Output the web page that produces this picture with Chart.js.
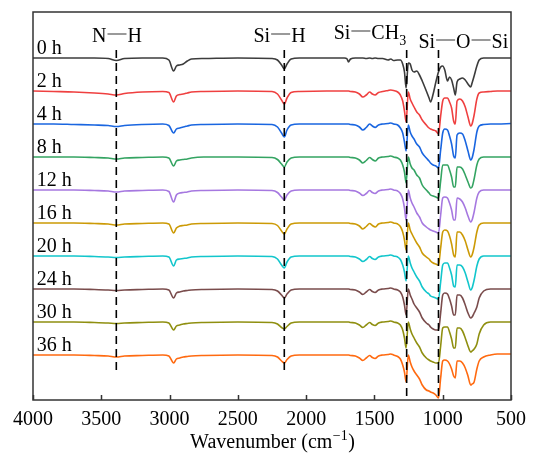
<!DOCTYPE html>
<html>
<head>
<meta charset="utf-8">
<script src="https://cdn.jsdelivr.net/npm/chart.js@4.4.0/dist/chart.umd.min.js"></script>
<style>
  html, body { margin: 0; padding: 0; background: #fff; }
  #wrap { width: 534px; height: 456px; }
</style>
</head>
<body>
<div id="wrap"><canvas id="ftirChart" width="534" height="456"></canvas></div>
<script>
// 파수 (cm-1), 내림차순
const wavenumbers = [
  4000, 3850, 3700, 3550, 3450, 3390, 3330, 3200, 3050,
  3005, 2970, 2950, 2925, 2900, 2870, 2840, 2750, 2500,
  2250, 2210, 2180, 2160, 2140, 2110, 2050, 1850,
  1720, 1700, 1690, 1675, 1640, 1610, 1585, 1560, 1535, 1515, 1495, 1470, 1440, 1400, 1380, 1360, 1330,
  1310, 1293, 1280, 1268, 1252, 1238, 1225, 1210, 1190, 1170, 1150, 1120, 1100, 1089, 1070, 1050, 1031,
  1015, 1000, 985, 965, 950, 935, 920, 908, 895, 875, 855, 835, 815, 795, 785, 770, 750, 733, 700, 650, 600, 500
];

const sampleLabels = ['0 h', '2 h', '4 h', '8 h', '12 h', '16 h', '20 h', '24 h', '30 h', '36 h'];
const traceColors = ['#3c3c3c', '#ef4040', '#1a66e0', '#34a462', '#a678e0', '#cc9a06', '#12c6cc', '#7a4c4c', '#8f8f10', '#ff6a10'];
const baselineOffsets = [342, 309, 276, 243, 210, 177, 144, 111, 78, 45];

// 흡수 깊이 (기준선 아래, 임의 단위)
const depth0h = [
  0, 0, 0, 0, 0.5, 2.5, 0.5, 0, 0,
  2, 13, 8, 7, 6, 3, 1, 0.5, 0,
  0.5, 2, 7, 11, 6, 1, 0, 0,
  0, 1, 4, 1, 0, 0, 0, 0.5, 0, 0.5, 0, 0.5, 0.5, 2, 1, 2.5, 2,
  2, 6, 14, 30, 5, 6, 12, 14, 13, 17, 23, 33, 40, 44, 36, 24, 14,
  9, 8, 12, 23, 19, 22, 30, 37, 24, 21, 20, 22, 26, 29, 25, 18, 8, 2, 0, 0, 0, 0
];
const depth2h = [
  0, 0.5, 1, 2, 3, 4, 2.5, 1, 0.5,
  1.5, 11, 5, 3.5, 3, 2, 1, 0.5, 0,
  0.5, 3, 9, 13, 7, 1.5, 0.5, 0,
  0, 0, 0, 0.5, 1, 3, 6, 4, 1, 3, 4, 1.5, 0.5, -0.5, -1, -0.5, 1,
  4, 10, 20, 31, 1, 8, 12, 16, 21, 24, 29, 34, 37, 38, 39, 40, 43,
  25, 10, 7, 7, 11, 17, 30, 33, 10, 8, 10, 16, 26, 35, 33, 24, 8, 2, 1, 0.5, 0, 0
];
const depth4h = [
  0, 0, 0.5, 1, 1.5, 2.5, 1.5, 0.5, 0,
  1.5, 9, 5, 4, 3, 2, 1, 0.5, 0,
  0.5, 3, 9, 13, 6, 1, 0, 0,
  0, 0, 0, 0.5, 1, 3, 6, 3.5, 0, 2, 3.5, 1, 0, -0.5, -1, 0, 1,
  4, 9, 18, 27, 1, 8, 12, 15, 20, 23, 29, 34, 37, 39, 41, 42, 44,
  26, 9, 5, 6, 12, 20, 32, 34, 11, 9, 10, 17, 27, 36, 34, 25, 8, 2, 0.5, 0, 0, -0.5
];
const depth8h = [
  0, 0, 0, 0.5, 1, 2, 1, 0.5, 0,
  1, 9, 4, 3, 2.5, 2, 1, 0, 0,
  0.5, 2.5, 7, 10, 5, 1, 0, 0,
  0, 0, 0, 0.5, 1, 3, 6, 3.5, 0.5, 2.5, 4, 1, 0, -0.5, -1, 0, 1,
  3, 8, 15, 26, 0, 7, 11, 13, 18, 21, 28, 33, 36, 38, 39, 40, 41,
  24, 8, 8, 8, 13, 20, 30, 30, 10, 10, 12, 18, 25, 31, 30, 22, 8, 2, 0, 0, 0, 0
];
const depth12h = [
  0, 0, 0, 0.5, 1, 2, 1, 0.5, 0,
  1.5, 12, 5, 3, 2.5, 2, 1, 0.5, 0,
  0.5, 2.5, 7, 10, 5, 1, 0, 0,
  0, 0, 0, 0.5, 1, 3, 5.5, 3.5, 0.5, 2.5, 3.5, 1, 0, -0.5, -1, 0, 1,
  3.5, 9, 18, 30, 0, 8, 13, 17, 23, 27, 33, 37, 39, 40, 41, 42, 43,
  25, 8, 7, 8, 13, 20, 30, 30, 8, 9, 12, 18, 26, 32, 30, 22, 8, 2, 0, 0, 0, 0
];
const depth16h = [
  0, 0, 0, 0.5, 1, 2, 1, 0.5, 0,
  1, 10, 5, 3, 2.5, 2, 1, 0.5, 0,
  0.5, 2.5, 8, 11, 6, 1, 0, 0,
  0, 0, 0, 0.5, 1, 3, 6, 3.5, 0.5, 2.5, 4, 1, 0, -0.5, -1, 0, 1,
  3.5, 9, 17, 27, 0, 7, 11, 15, 20, 24, 30, 34, 36, 38, 40, 41, 42,
  25, 9, 7, 8, 13, 21, 32, 34, 9, 9, 12, 18, 27, 34, 32, 24, 9, 2, 0, 0, 0, 0
];
const depth20h = [
  0, 0, 0, 0.5, 1, 1.5, 1, 0.5, 0,
  1, 10, 4, 3, 2.5, 2, 1, 0.5, 0,
  0.5, 3, 9, 12, 6, 1, 0, 0,
  0, 0, 0, 0.5, 1, 3, 5.5, 3.5, 0.5, 2.5, 3.5, 1, 0, -0.5, -1, 0, 1,
  3.5, 9, 16, 25, 0, 7, 12, 16, 21, 25, 31, 36, 38, 40, 41, 42, 43,
  26, 9, 7, 7, 12, 19, 30, 31, 9, 9, 11, 17, 26, 34, 32, 24, 10, 3, 0, 0, 0, 0
];
const depth24h = [
  0, 0, 0, 0.5, 1, 1.5, 1, 0.5, 0,
  1, 9, 4, 3, 2, 1.5, 1, 0.5, 0,
  0.5, 2, 6, 9, 5, 1, 0, 0,
  0, 0, 0, 0.5, 1, 3, 5.5, 3, 0.5, 2.5, 3.5, 1, 0, -0.5, -1, 0, 1,
  3, 8, 16, 26, 0, 6, 10, 15, 19, 23, 29, 34, 36, 38, 40, 41, 41,
  24, 6, 4, 5, 10, 17, 26, 26, 6, 6, 9, 16, 24, 29, 28, 24, 18, 9, 2, 0, 0, 0
];
const depth30h = [
  0, 0, 0, 0.5, 1, 1.5, 1, 0.5, 0,
  1, 8, 4, 3, 2, 1.5, 1, 0.5, 0,
  0.5, 2, 5.5, 7, 4.5, 1, 0, 0,
  0, 0, 0, 0.5, 1, 3, 5.5, 3, 0.5, 2.5, 3.5, 1, 0, -0.5, -1, 0, 1,
  3, 8, 16, 26, 0, 7, 12, 16, 21, 25, 31, 36, 38, 39, 40, 41, 41,
  24, 6, 5, 5, 10, 17, 26, 26, 6, 6, 9, 16, 24, 30, 29, 27, 22, 12, 3, 0, 0, 0
];
const depth36h = [
  0, 0, 0, 0.5, 1, 2, 1, 0.5, 0,
  1, 8, 4, 3, 2, 1.5, 1, 0.5, 0,
  0.5, 2, 6, 8, 4.5, 1, 0, 0,
  0, 0, 0, 0.5, 1, 3, 5.5, 3, 0.5, 2.5, 3.5, 1, 0, -0.5, -1, 0, 1.5,
  4, 10, 17, 27, 0, 7, 12, 16, 20, 24, 30, 35, 36, 37, 38, 40, 43,
  23, 6, 5, 6, 9, 14, 21, 23, 6, 6, 8, 13, 21, 30, 29, 27, 14, 6, 2, 0, -1, -1
];
const depthSeries = [depth0h, depth2h, depth4h, depth8h, depth12h, depth16h, depth20h, depth24h, depth30h, depth36h];

// 점선 (작용기 위치)
const markerWavenumbers = [3390, 2160, 1264, 1031];
const markerTop = [350, 350, 350, 350];
const markerBottom = [26, 26, 2, 0];

const xTicks = [4000, 3500, 3000, 2500, 2000, 1500, 1000, 500];

const SERIF = "'Liberation Serif', 'Times New Roman', serif";

// 작용기 라벨 배치
const bondLabels = [
  { parts: [['t', 'N'], ['b'], ['t', 'H']], cx: 3385, base: 358 },
  { parts: [['t', 'Si'], ['b'], ['t', 'H']], cx: 2195, base: 358 },
  { parts: [['t', 'Si'], ['b'], ['t', 'CH'], ['s', '3']], cx: 1533, base: 361 },
  { parts: [['t', 'Si'], ['b'], ['t', 'O'], ['b'], ['t', 'Si']], cx: 849, base: 352 }
];

const datasets = [];
markerWavenumbers.forEach(function(w, i) {
  datasets.push({
    data: [{ x: w, y: markerTop[i] }, { x: w, y: markerBottom[i] }],
    borderColor: '#000',
    borderWidth: 1.6,
    borderDash: [8, 5],
    pointRadius: 0,
    fill: false
  });
});
depthSeries.forEach(function(d, k) {
  datasets.push({
    label: sampleLabels[k],
    data: wavenumbers.map(function(w, i) { return { x: w, y: baselineOffsets[k] - d[i] }; }),
    borderColor: traceColors[k],
    borderWidth: 1.6,
    pointRadius: 0,
    cubicInterpolationMode: 'monotone',
    fill: false
  });
});

const decor = {
  id: 'decor',
  afterDraw(chart) {
    const ctx = chart.ctx;
    const xs = chart.scales.x, ys = chart.scales.y;
    const a = chart.chartArea;
    ctx.save();

    // 테두리
    ctx.strokeStyle = '#333';
    ctx.lineWidth = 1.5;
    ctx.strokeRect(a.left, a.top, a.right - a.left, a.bottom - a.top);

    // 안쪽 눈금
    ctx.beginPath();
    xTicks.forEach(function(t) {
      const px = Math.round(xs.getPixelForValue(t)) + 0.5;
      ctx.moveTo(px, a.bottom);
      ctx.lineTo(px, a.bottom - 5);
    });
    ctx.stroke();

    // 시간 라벨
    ctx.fillStyle = '#000';
    ctx.font = '20px ' + SERIF;
    ctx.textAlign = 'left';
    ctx.textBaseline = 'alphabetic';
    sampleLabels.forEach(function(s, k) {
      ctx.fillText(s, xs.getPixelForValue(3972), ys.getPixelForValue(baselineOffsets[k] + 4));
    });

    // 작용기 라벨
    bondLabels.forEach(function(lab) {
      const widths = lab.parts.map(function(p) {
        if (p[0] === 'b') return 21;
        ctx.font = (p[0] === 's' ? '14px ' : '20px ') + SERIF;
        return ctx.measureText(p[1]).width;
      });
      const total = widths.reduce(function(s, v) { return s + v; }, 0);
      let x = xs.getPixelForValue(lab.cx) - total / 2;
      const by = ys.getPixelForValue(lab.base);
      lab.parts.forEach(function(p, i) {
        if (p[0] === 'b') {
          ctx.strokeStyle = '#9a9a9a';
          ctx.lineWidth = 2;
          ctx.beginPath();
          ctx.moveTo(x + 1, by - 8);
          ctx.lineTo(x + 20, by - 8);
          ctx.stroke();
        } else {
          ctx.font = (p[0] === 's' ? '14px ' : '20px ') + SERIF;
          ctx.fillStyle = '#000';
          ctx.fillText(p[1], x, p[0] === 's' ? by + 6 : by);
        }
        x += widths[i];
      });
    });

    // x축 제목
    const main = 'Wavenumber (cm', sup = '\u22121', tail = ')';
    ctx.font = '20px ' + SERIF;
    const w1 = ctx.measureText(main).width, w3 = ctx.measureText(tail).width;
    ctx.font = '14px ' + SERIF;
    const w2 = ctx.measureText(sup).width;
    let tx = (a.left + a.right) / 2 - (w1 + w2 + w3) / 2;
    const ty = 448;
    ctx.fillStyle = '#000';
    ctx.font = '20px ' + SERIF;
    ctx.fillText(main, tx, ty);
    ctx.font = '14px ' + SERIF;
    ctx.fillText(sup, tx + w1 + 0.5, ty - 8);
    ctx.font = '20px ' + SERIF;
    ctx.fillText(tail, tx + w1 + w2 + 1, ty);

    ctx.restore();
  }
};

new Chart(document.getElementById('ftirChart').getContext('2d'), {
  type: 'line',
  data: { datasets: datasets },
  options: {
    responsive: false,
    animation: false,
    layout: { padding: { left: 33, right: 20, top: 12, bottom: 0 } },
    plugins: { legend: { display: false }, tooltip: { enabled: false } },
    scales: {
      x: {
        type: 'linear',
        min: 500,
        max: 4000,
        reverse: true,
        grid: { display: false, drawTicks: false },
        border: { display: false },
        ticks: {
          stepSize: 500,
          autoSkip: false,
          maxRotation: 0,
          padding: 8,
          color: '#000',
          font: { family: SERIF, size: 20 },
          callback: function(v) { return String(v); }
        },
        afterFit: function(scale) { scale.height = 56; }
      },
      y: {
        display: false,
        min: 0,
        max: 388
      }
    }
  },
  plugins: [decor]
});
</script>
</body>
</html>
